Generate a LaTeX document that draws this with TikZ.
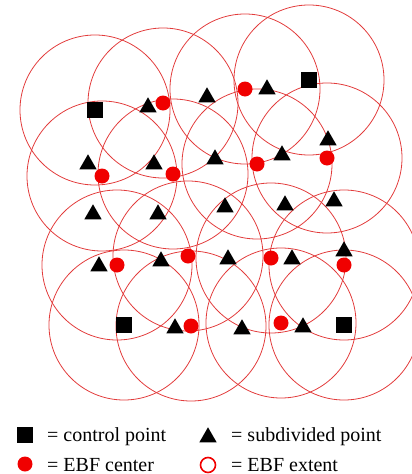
\documentclass[tikz,border=0pt]{standalone}
\usepackage{fontspec}
\setmainfont{Liberation Serif}
\usetikzlibrary{shapes.geometric}
\definecolor{ebf}{RGB}{226,60,60}
\definecolor{dotred}{RGB}{240,0,0}
\begin{document}
\begin{tikzpicture}[x=1pt,y=-1pt,
  extent/.style={circle, draw=ebf, line width=0.8pt, minimum size=150pt, inner sep=0pt, outer sep=0pt},
  ctrl/.style={rectangle, fill=black, minimum size=16pt, inner sep=0pt},
  ctr/.style={circle, fill=dotred, minimum size=15pt, inner sep=0pt},
  subd/.style={regular polygon, regular polygon sides=3, fill=black, minimum size=20pt, inner sep=0pt, yshift=-2.3pt},
  ring/.style={circle, draw=dotred, line width=1.6pt, minimum size=15pt, inner sep=0pt},
  lbl/.style={anchor=base west, inner sep=0pt, font=\fontsize{20}{24}\selectfont}]
\useasboundingbox (0,0) rectangle (412,474);
\begin{scope}
\clip (0,0) rectangle (412,474);
% EBF extents: around control points
\foreach \n/\x/\y in {q1/95/110, q2/309/80, q3/124/325, q4/344/325}
  \node[extent] (e\n) at (\x,\y) {};
% EBF extents: around EBF centres
\foreach \n/\x/\y in {c1/163/103, c2/245/89, c3/102/176, c4/173/174, c5/257/164, c6/327/158,
                      c7/188/256, c8/117/265, c9/271/258, c10/344/265, c11/191/326, c12/281/323}
  \node[extent] (e\n) at (\x,\y) {};
\end{scope}
% control points
\foreach \n/\x/\y in {q1/95/110, q2/309/80, q3/124/325, q4/344/325}
  \node[ctrl] (\n) at (\x,\y) {};
% EBF centres
\foreach \n/\x/\y in {c1/163/103, c2/245/89, c3/102/176, c4/173/174, c5/257/164, c6/327/158,
                      c7/188/256, c8/117/265, c9/271/258, c10/344/265, c11/191/326, c12/281/323}
  \node[ctr] (\n) at (\x,\y) {};
% subdivided points
\foreach \n/\x/\y in {t1/148/105, t2/207/95, t3/267/87, t4/88/162, t5/154/162, t6/215/157,
                      t7/282/153, t8/328/138, t9/93/212, t10/158/212, t11/225/205, t12/285/203,
                      t13/334/199, t14/99/264, t15/161/259, t16/228/257, t17/292/257, t18/344/249,
                      t19/175/326, t20/242/327, t21/303/325}
  \node[subd] (\n) at (\x,\y) {};
% legend
\node[ctrl] (lq) at (25,435) {};
\node[lbl] (lqt) at (47,441) {= control point};
\node[subd] (lt) at (208,435) {};
\node[lbl] (ltt) at (231,441) {= subdivided point};
\node[ctr] (lc) at (25,464) {};
\node[lbl] (lct) at (47,471) {= EBF center};
\node[ring] (lr) at (208,465) {};
\node[lbl] (lrt) at (231,471) {= EBF extent};
\end{tikzpicture}
\end{document}
